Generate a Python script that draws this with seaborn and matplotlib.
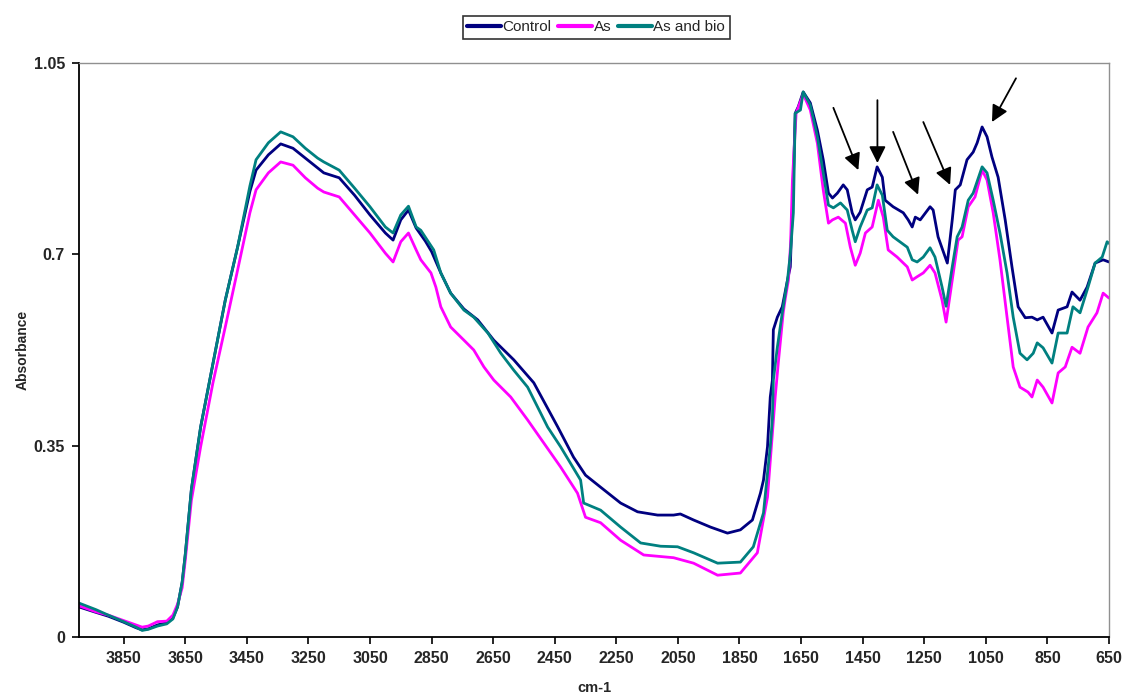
import pandas as pd
import seaborn as sns
import matplotlib.pyplot as plt

# wavenumbers (cm-1) and absorbance
control_wn = [3995, 3940, 3900, 3850, 3810, 3790, 3770, 3740, 3710, 3690, 3675, 3660, 3650,
              3630, 3600, 3560, 3520, 3480, 3440, 3420, 3380, 3340, 3300, 3260, 3220, 3200,
              3150, 3100, 3050, 3000, 2975, 2950, 2925, 2900, 2870, 2850, 2820, 2788, 2745,
              2700, 2648, 2583, 2518, 2440, 2389, 2350, 2301, 2236, 2181, 2116, 2064, 2042,
              1999, 1944, 1889, 1847, 1808, 1782, 1772, 1759, 1750, 1743, 1740, 1727, 1711,
              1694, 1685, 1675, 1669, 1659, 1643, 1620, 1597, 1578, 1561, 1548, 1532, 1513,
              1500, 1484, 1474, 1458, 1435, 1419, 1403, 1386, 1377, 1351, 1318, 1302, 1289,
              1279, 1263, 1231, 1221, 1205, 1175, 1159, 1149, 1133, 1111, 1091, 1078, 1062,
              1046, 1030, 1010, 987, 965, 945, 922, 900, 883, 864, 835, 815, 786, 770, 744,
              721, 695, 669, 650]
control_abs = [0.055, 0.045, 0.038, 0.027, 0.017, 0.013, 0.015, 0.022, 0.026, 0.035, 0.055, 0.10, 0.15,
               0.27, 0.384, 0.50, 0.616, 0.713, 0.815, 0.854, 0.882, 0.902, 0.894, 0.876, 0.858, 0.849,
               0.840, 0.808, 0.772, 0.739, 0.726, 0.763, 0.781, 0.748, 0.724, 0.705, 0.666, 0.629, 0.600,
               0.580, 0.543, 0.507, 0.465, 0.384, 0.329, 0.296, 0.274, 0.245, 0.229, 0.223, 0.223, 0.225,
               0.214, 0.201, 0.190, 0.196, 0.214, 0.263, 0.287, 0.348, 0.439, 0.470, 0.562, 0.585, 0.604,
               0.653, 0.677, 0.836, 0.958, 0.970, 0.997, 0.977, 0.927, 0.873, 0.812, 0.803, 0.812, 0.827,
               0.818, 0.776, 0.763, 0.777, 0.818, 0.823, 0.860, 0.841, 0.799, 0.787, 0.776, 0.763, 0.750,
               0.768, 0.763, 0.787, 0.781, 0.732, 0.684, 0.763, 0.818, 0.827, 0.873, 0.887, 0.904, 0.933,
               0.915, 0.878, 0.841, 0.763, 0.677, 0.604, 0.584, 0.585, 0.580, 0.585, 0.556, 0.598, 0.604, 0.631, 0.616,
               0.640, 0.684, 0.690, 0.686]

as_wn = [3995, 3940, 3900, 3850, 3810, 3790, 3770, 3740, 3710, 3690, 3675, 3660, 3650,
         3630, 3600, 3560, 3520, 3480, 3440, 3420, 3380, 3340, 3300, 3260, 3220, 3200,
         3150, 3100, 3050, 3000, 2975, 2950, 2925, 2900, 2885, 2852, 2836, 2820, 2788, 2745,
         2713, 2680, 2648, 2593, 2538, 2431, 2376, 2350, 2301, 2236, 2161, 2064, 1999, 1921,
         1847, 1792, 1759, 1734, 1724, 1708, 1701, 1691, 1684, 1678, 1666, 1643, 1620, 1597,
         1578, 1561, 1548, 1529, 1506, 1490, 1474, 1458, 1441, 1419, 1399, 1383, 1367, 1338,
         1305, 1289, 1273, 1253, 1231, 1215, 1192, 1179, 1159, 1140, 1127, 1107, 1085, 1062,
         1046, 1026, 1004, 981, 961, 939, 913, 900, 883, 864, 835, 815, 792, 770, 744, 718,
         689, 669, 650]
as_abs = [0.057, 0.046, 0.040, 0.030, 0.022, 0.018, 0.020, 0.028, 0.029, 0.040, 0.060, 0.09, 0.14,
          0.25, 0.348, 0.465, 0.567, 0.671, 0.776, 0.818, 0.849, 0.869, 0.863, 0.840, 0.821, 0.814,
          0.805, 0.772, 0.739, 0.702, 0.686, 0.723, 0.739, 0.708, 0.690, 0.666, 0.640, 0.604, 0.567, 0.543,
          0.525, 0.494, 0.470, 0.439, 0.397, 0.311, 0.263, 0.219, 0.209, 0.177, 0.150, 0.145, 0.135, 0.113,
          0.117, 0.154, 0.256, 0.439, 0.501, 0.593, 0.620, 0.653, 0.720, 0.836, 0.958, 0.993, 0.964, 0.903,
          0.818, 0.757, 0.763, 0.768, 0.757, 0.713, 0.680, 0.702, 0.739, 0.750, 0.799, 0.768, 0.708, 0.695,
          0.677, 0.653, 0.659, 0.666, 0.680, 0.666, 0.616, 0.576, 0.653, 0.726, 0.732, 0.787, 0.805, 0.854,
          0.836, 0.776, 0.690, 0.585, 0.494, 0.457, 0.448, 0.439, 0.470, 0.457, 0.428, 0.483, 0.494, 0.530, 0.519, 0.567,
          0.593, 0.629, 0.620]

bio_wn = [3995, 3940, 3900, 3850, 3810, 3790, 3770, 3740, 3710, 3690, 3675, 3660, 3650,
          3630, 3600, 3560, 3520, 3480, 3440, 3420, 3380, 3340, 3300, 3260, 3220, 3200,
          3150, 3100, 3050, 3000, 2975, 2950, 2925, 2900, 2885, 2843, 2820, 2788, 2745, 2713,
          2667, 2625, 2583, 2538, 2473, 2431, 2366, 2356, 2301, 2236, 2171, 2106, 2051, 1999,
          1921, 1847, 1805, 1772, 1759, 1750, 1743, 1740, 1727, 1711, 1694, 1685, 1675, 1669,
          1652, 1643, 1620, 1597, 1578, 1561, 1545, 1522, 1500, 1484, 1474, 1458, 1435, 1419,
          1403, 1386, 1370, 1351, 1305, 1289, 1273, 1253, 1231, 1215, 1192, 1179, 1159, 1143,
          1127, 1107, 1091, 1062, 1046, 1026, 1004, 981, 961, 939, 916, 896, 883, 864, 835,
          815, 786, 767, 744, 718, 695, 672, 656, 650]
bio_abs = [0.062, 0.050, 0.040, 0.028, 0.018, 0.012, 0.014, 0.020, 0.024, 0.033, 0.055, 0.10, 0.15,
           0.27, 0.384, 0.50, 0.616, 0.713, 0.825, 0.873, 0.904, 0.924, 0.915, 0.894, 0.876, 0.869,
           0.854, 0.821, 0.787, 0.750, 0.739, 0.772, 0.788, 0.750, 0.744, 0.708, 0.666, 0.629, 0.598, 0.585,
           0.556, 0.519, 0.488, 0.457, 0.384, 0.348, 0.287, 0.245, 0.232, 0.201, 0.172, 0.166, 0.165, 0.154,
           0.135, 0.137, 0.165, 0.227, 0.300, 0.348, 0.400, 0.470, 0.530, 0.593, 0.653, 0.700, 0.776, 0.958,
           0.964, 0.997, 0.973, 0.915, 0.849, 0.790, 0.785, 0.794, 0.781, 0.744, 0.723, 0.750, 0.781, 0.785,
           0.827, 0.808, 0.744, 0.732, 0.713, 0.690, 0.686, 0.695, 0.712, 0.695, 0.640, 0.605, 0.677, 0.732,
           0.750, 0.799, 0.812, 0.860, 0.849, 0.799, 0.739, 0.666, 0.585, 0.519, 0.507, 0.519, 0.538, 0.529, 0.501,
           0.556, 0.556, 0.604, 0.593, 0.640, 0.684, 0.695, 0.723, 0.720]

series_names = ["Control", "As", "As and bio"]
series_colors = ["#000080", "#FF00FF", "#008080"]

x_ticks = [3850, 3650, 3450, 3250, 3050, 2850, 2650, 2450, 2250, 2050, 1850, 1650, 1450, 1250, 1050, 850, 650]
y_ticks = [0, 0.35, 0.7, 1.05]
y_tick_labels = ["0", "0.35", "0.7", "1.05"]

# arrows pointing at the bands: (tail wn, tail abs, head wn, head abs)
arrows = [(1545, 0.968, 1464, 0.854),
          (1402, 0.982, 1402, 0.867),
          (1351, 0.924, 1270, 0.809),
          (1253, 0.942, 1166, 0.827),
          (952, 1.022, 1030, 0.942)]

df = pd.concat([
    pd.DataFrame({"wn": control_wn, "abs": control_abs, "series": "Control"}),
    pd.DataFrame({"wn": as_wn, "abs": as_abs, "series": "As"}),
    pd.DataFrame({"wn": bio_wn, "abs": bio_abs, "series": "As and bio"}),
])

sns.set_style("white")
plt.rcParams["font.family"] = ["Liberation Sans", "DejaVu Sans"]

fig = plt.figure(figsize=(11.27, 6.96), dpi=100)
ax = fig.add_axes([0.0701, 0.0848, 0.9139, 0.8247])

sns.lineplot(data=df, x="wn", y="abs", hue="series", hue_order=series_names,
             palette=series_colors, estimator=None, linewidth=2.0, ax=ax)

for x0, y0, x1, y1 in arrows:
    ax.annotate("", xy=(x1, y1), xytext=(x0, y0),
                arrowprops=dict(arrowstyle="-|>", color="black", lw=1.3,
                                mutation_scale=25, shrinkA=0, shrinkB=0))

ax.set_xlim(3995, 650)
ax.set_ylim(0, 1.05)
ax.set_xticks(x_ticks)
ax.set_xticklabels([str(t) for t in x_ticks], fontsize=11.5, fontweight="bold")
ax.set_yticks(y_ticks)
ax.set_yticklabels(y_tick_labels, fontsize=11.5, fontweight="bold")
ax.tick_params(axis="both", direction="out", length=5, width=1.2, color="black", pad=5,
               bottom=True, left=True)
ax.set_xlabel("cm-1", fontsize=10.5, fontweight="bold", va="center")
ax.set_ylabel("Absorbance", fontsize=10, fontweight="bold", va="center")
ax.xaxis.set_label_coords(0.5, -0.089)
ax.yaxis.set_label_coords(-0.055, 0.5)

for side in ["left", "bottom"]:
    ax.spines[side].set_color("black")
    ax.spines[side].set_linewidth(1.3)
for side in ["top", "right"]:
    ax.spines[side].set_color("#909090")
    ax.spines[side].set_linewidth(1.0)

ax.legend(loc="center", bbox_to_anchor=(0.529, 0.961), bbox_transform=fig.transFigure,
          ncol=3, frameon=True, fancybox=False, edgecolor="black", fontsize=11,
          handlelength=2.2, handletextpad=0.1, columnspacing=0.45, borderpad=0.3,
          title=None)
leg = ax.get_legend()
leg.get_frame().set_linewidth(1.2)
for line in leg.get_lines():
    line.set_linewidth(3.0)

fig.savefig("out.png", dpi=100)
